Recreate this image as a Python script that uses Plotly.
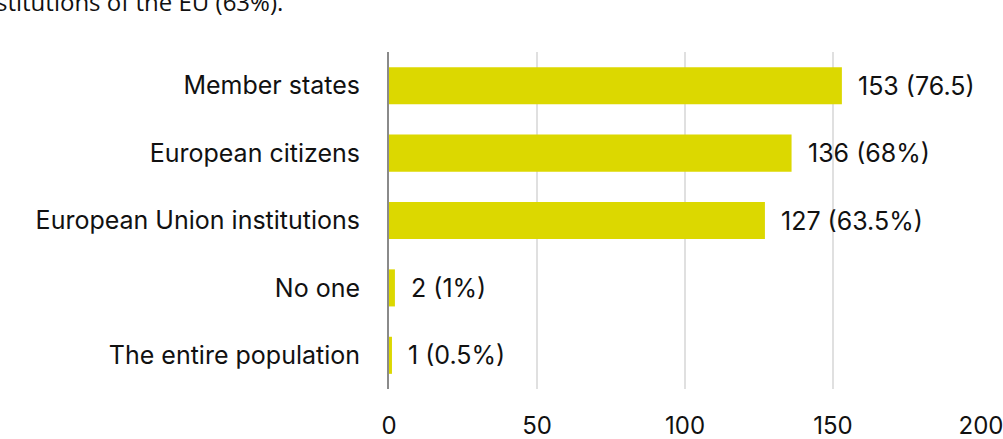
import plotly.graph_objects as go

categories = ["Member states", "European citizens", "European Union institutions", "No one", "The entire population"]
values = [153, 136, 127, 2, 1]
labels = ["153 (76.5)", "136 (68%)", "127 (63.5%)", "2 (1%)", "1 (0.5%)"]
x_ticks = [0, 50, 100, 150, 200]

FONT = "Inter, Open Sans, Liberation Sans, sans-serif"

fig = go.Figure()
fig.add_trace(go.Bar(
    y=categories, x=values, orientation="h",
    marker=dict(color="#DCD800", line=dict(width=0)),
    hoverinfo="skip",
))

for c, v, t in zip(categories, values, labels):
    fig.add_annotation(x=v, y=c, text=t, showarrow=False, xanchor="left", xshift=14,
                       font=dict(family=FONT, size=25, color="#111111"))

fig.add_annotation(xref="paper", yref="paper", x=0, y=1.10, xanchor="left", yanchor="bottom",
                   xshift=-395, yshift=-2, text="stitutions of the EU (63%).", showarrow=False,
                   font=dict(family="Open Sans, sans-serif", size=24, color="#111111"))

fig.update_layout(
    width=1003, height=439,
    margin=dict(l=389, r=22, t=52, b=50, autoexpand=False),
    paper_bgcolor="white", plot_bgcolor="white",
    bargap=0.45, showlegend=False,
    xaxis=dict(range=[0, 200], tickvals=x_ticks, showgrid=True, gridcolor="#e0e0e0", gridwidth=2,
               zeroline=False, showline=False, ticks="", ticklabelstandoff=20, automargin=False,
               ticklabeloverflow="allow",
               tickfont=dict(family=FONT, size=24, color="#111111")),
    yaxis=dict(categoryorder="array", categoryarray=categories[::-1], showgrid=False,
               showline=True, linecolor="#8a8a8a", linewidth=2, ticks="", ticklabelstandoff=22,
               automargin=False,
               tickfont=dict(family=FONT, size=25, color="#111111")),
)

fig.write_html("out.html")
